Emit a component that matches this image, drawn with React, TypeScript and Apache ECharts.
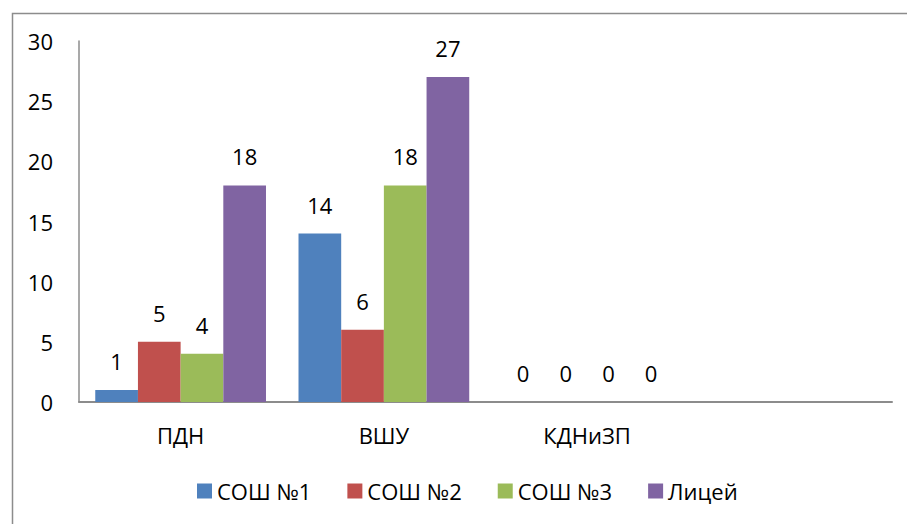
import React, { useEffect, useRef } from "react";
import * as echarts from "echarts";

const categories = ["ПДН", "ВШУ", "КДНиЗП", ""];
const seriesNames = ["СОШ №1", "СОШ №2", "СОШ №3", "Лицей"];
const school1 = [1, 14, 0, null];
const school2 = [5, 6, 0, null];
const school3 = [4, 18, 0, null];
const lyceum = [18, 27, 0, null];
const colors = ["#4F81BD", "#C0504D", "#9BBB59", "#8064A2"];

const FONT = "'Open Sans', 'Noto Sans', sans-serif";
const FS = 22;

export default function App() {
  const ref = useRef<HTMLDivElement>(null);
  useEffect(() => {
    if (!ref.current) return;
    const chart = echarts.init(ref.current, undefined, { renderer: "svg" });
    const values = [school1, school2, school3, lyceum];
    chart.setOption({
      animation: false,
      backgroundColor: "#ffffff",
      textStyle: { fontFamily: FONT },
      graphic: [
        {
          type: "rect",
          left: 10,
          top: 11,
          shape: { width: 1000, height: 1000 },
          style: { fill: "none", stroke: "#8c8c8c", lineWidth: 1.5 },
          silent: true,
        },
      ],
      grid: { left: 79, top: 41, right: 15, bottom: 122, containLabel: false },
      legend: {
        bottom: 17,
        left: 192,
        itemWidth: 15,
        itemHeight: 15,
        itemGap: 36,
        icon: "rect",
        textStyle: { fontSize: FS, color: "#000", fontFamily: FONT },
        data: seriesNames,
      },
      xAxis: {
        type: "category",
        data: categories,
        axisLine: { lineStyle: { color: "#8c8c8c", width: 2 } },
        axisTick: { show: false },
        axisLabel: { fontSize: FS, color: "#000", margin: 22, fontFamily: FONT },
      },
      yAxis: {
        type: "value",
        min: 0,
        max: 30,
        interval: 5,
        axisLine: { show: true, lineStyle: { color: "#8c8c8c", width: 1.5 } },
        axisTick: { show: false },
        splitLine: { show: false },
        axisLabel: { fontSize: FS, color: "#000", margin: 26, fontFamily: FONT },
      },
      series: seriesNames.map((name, i) => ({
        name,
        type: "bar",
        data: values[i],
        barGap: "0%",
        barCategoryGap: "16%",
        itemStyle: { color: colors[i] },
        label: {
          show: true,
          position: "top",
          distance: 18,
          fontSize: FS,
          color: "#000",
          fontFamily: FONT,
        },
      })),
    });
    return () => chart.dispose();
  }, []);
  return (
    <div
      ref={ref}
      style={{ position: "absolute", left: 0, top: 0, width: 907, height: 524 }}
    />
  );
}
